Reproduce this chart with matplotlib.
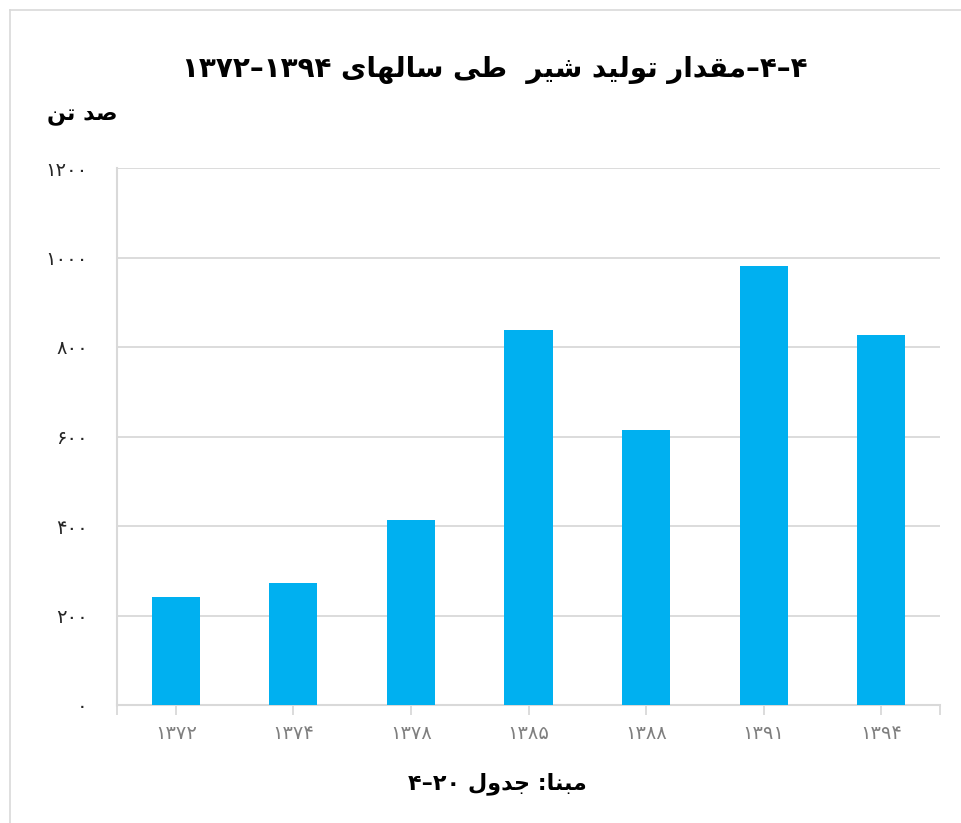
import matplotlib
matplotlib.use("Agg")
import matplotlib.pyplot as plt
from matplotlib.lines import Line2D

# ---------------- data ----------------
years = ["۱۳۷۲", "۱۳۷۴", "۱۳۷۸", "۱۳۸۵", "۱۳۸۸", "۱۳۹۱", "۱۳۹۴"]
values = [241, 273, 413, 838, 614, 981, 827]
yticks = [0, 200, 400, 600, 800, 1000, 1200]
ytick_labels = ["۰", "۲۰۰", "۴۰۰", "۶۰۰", "۸۰۰", "۱۰۰۰", "۱۲۰۰"]

# ---------------- minimal Arabic/Persian shaping ----------------
# forms: (isolated, final, initial, medial); right-joining letters have only 2
FORMS = {
    "ا": ("\uFE8D", "\uFE8E"),
    "ب": ("\uFE8F", "\uFE90", "\uFE91", "\uFE92"),
    "ت": ("\uFE95", "\uFE96", "\uFE97", "\uFE98"),
    "ج": ("\uFE9D", "\uFE9E", "\uFE9F", "\uFEA0"),
    "د": ("\uFEA9", "\uFEAA"),
    "ر": ("\uFEAD", "\uFEAE"),
    "س": ("\uFEB1", "\uFEB2", "\uFEB3", "\uFEB4"),
    "ش": ("\uFEB5", "\uFEB6", "\uFEB7", "\uFEB8"),
    "ص": ("\uFEB9", "\uFEBA", "\uFEBB", "\uFEBC"),
    "ط": ("\uFEC1", "\uFEC2", "\uFEC3", "\uFEC4"),
    "ق": ("\uFED5", "\uFED6", "\uFED7", "\uFED8"),
    "ل": ("\uFEDD", "\uFEDE", "\uFEDF", "\uFEE0"),
    "م": ("\uFEE1", "\uFEE2", "\uFEE3", "\uFEE4"),
    "ن": ("\uFEE5", "\uFEE6", "\uFEE7", "\uFEE8"),
    "ه": ("\uFEE9", "\uFEEA", "\uFEEB", "\uFEEC"),
    "و": ("\uFEED", "\uFEEE"),
    "ی": ("\uFEEF", "\uFEF0", "\uFEF3", "\uFEF4"),
}


def shape(word):
    out = []
    n = len(word)
    for i, ch in enumerate(word):
        f = FORMS.get(ch)
        if f is None:
            out.append(ch)
            continue
        prev = word[i - 1] if i > 0 else None
        nxt = word[i + 1] if i < n - 1 else None
        jp = prev is not None and prev in FORMS and len(FORMS[prev]) == 4
        jn = len(f) == 4 and nxt is not None and nxt in FORMS
        if jp and jn:
            out.append(f[3])
        elif jp:
            out.append(f[1])
        elif jn:
            out.append(f[2])
        else:
            out.append(f[0])
    return "".join(out)


def vis(word):
    """visual (left-to-right) form of an RTL word"""
    return shape(word)[::-1]


title_txt = ("۱۳۷۲–۱۳۹۴ " + vis("سالهای") + " " + vis("طی") + "  " + vis("شیر")
             + " " + vis("تولید") + " " + vis("مقدار") + "–۴–۴")
unit_txt = vis("تن") + " " + vis("صد")
source_txt = "۴–۲۰ " + vis("جدول") + " :" + vis("مبنا")

# ---------------- figure ----------------
W, H = 961, 823
fig = plt.figure(figsize=(W / 100, H / 100), dpi=100)
fig.patch.set_facecolor("white")

ax = fig.add_axes([117 / W, 1 - 705 / H, (940 - 117) / W, (705 - 168) / H])
x = list(range(len(years)))
ax.bar(x, values, width=0.41, color="#00B0F0", zorder=3)

ax.set_xlim(-0.5, len(years) - 0.5)
ax.set_ylim(0, 1200)
ax.set_yticks(yticks)
ax.set_yticklabels(ytick_labels, fontsize=14, color="#262626", family=["DejaVu Sans"])
ax.set_xticks(x)
ax.set_xticklabels(years, fontsize=14, color="#7f7f7f", family=["DejaVu Sans"])
ax.set_xticks([-0.5, len(years) - 0.5], minor=True)

ax.grid(axis="y", color="#d9d9d9", linewidth=1.3, zorder=0)
ax.set_axisbelow(True)
for s in ["top", "right"]:
    ax.spines[s].set_visible(False)
for s in ["left", "bottom"]:
    ax.spines[s].set_color("#d9d9d9")
    ax.spines[s].set_linewidth(1.5)

ax.tick_params(axis="y", length=0, pad=21)
ax.tick_params(axis="x", which="both", length=7, width=1.3, color="#d9d9d9",
               direction="out", pad=7)

# texts
fig.text(495 / W, 1 - 70 / H, title_txt, ha="center", va="center",
         fontsize=20, fontweight="bold", color="black", family=["DejaVu Sans"])
fig.text(82 / W, 1 - 116 / H, unit_txt, ha="center", va="center",
         fontsize=16, fontweight="bold", color="black", family=["DejaVu Sans"])
fig.text(497 / W, 1 - 784 / H, source_txt, ha="center", va="center",
         fontsize=16, fontweight="bold", color="black", family=["DejaVu Sans"])

# outer border (left and top edges visible)
fig.add_artist(Line2D([9.5 / W, 9.5 / W], [0, 1 - 9.5 / H], transform=fig.transFigure,
                      color="#d9d9d9", linewidth=1.2))
fig.add_artist(Line2D([9.5 / W, 1], [1 - 9.5 / H, 1 - 9.5 / H], transform=fig.transFigure,
                      color="#d9d9d9", linewidth=1.2))

fig.savefig("out.png", dpi=100, facecolor="white")
